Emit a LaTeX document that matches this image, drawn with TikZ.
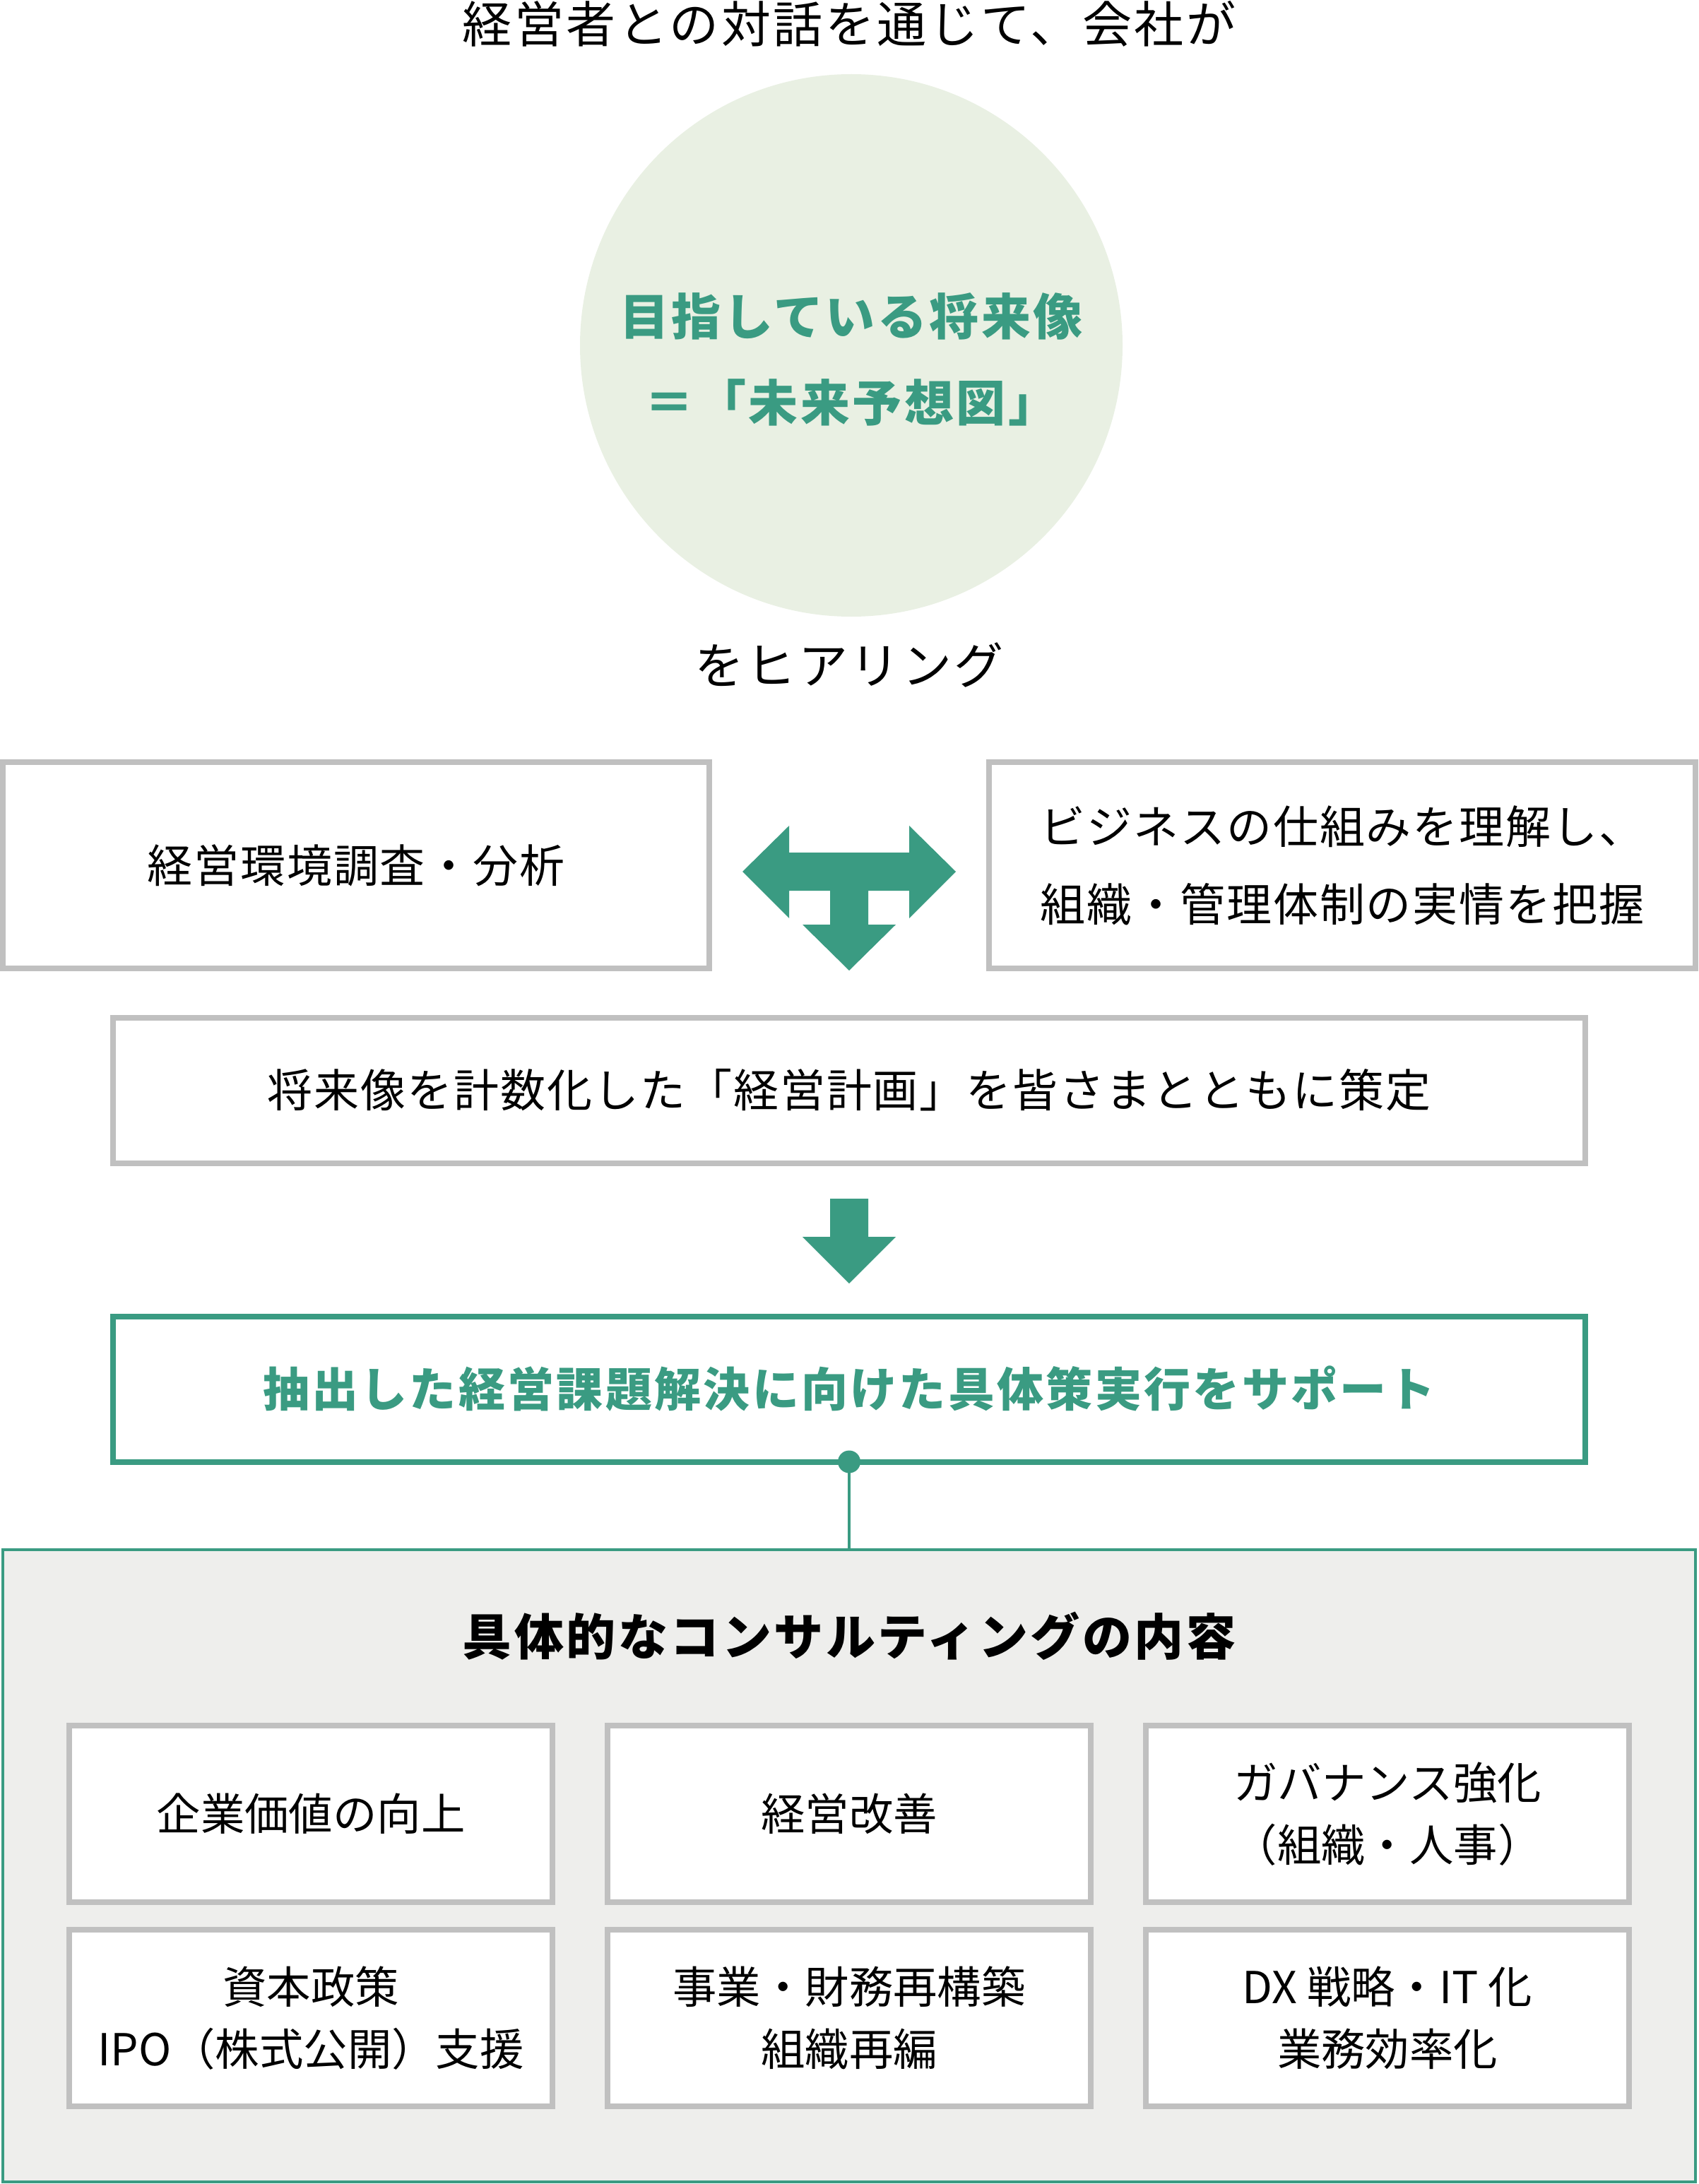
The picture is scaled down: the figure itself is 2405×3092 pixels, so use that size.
\documentclass[tikz,border=0pt]{standalone}
\usepackage{fontspec}
\setmainfont{Noto Sans CJK JP}
\newfontfamily\capfont[LetterSpace=5]{Noto Sans CJK JP}
\newfontfamily\boxfont[LetterSpace=3]{Noto Sans CJK JP}
\usetikzlibrary{positioning}

\definecolor{brandgreen}{HTML}{3A9B82}
\definecolor{paleleaf}{HTML}{E9F0E3}
\definecolor{framegray}{HTML}{C0C0C0}
\definecolor{panelgray}{HTML}{EEEEEC}

\begin{document}
\begin{tikzpicture}[x=0.25pt, y=-0.25pt,
        caption/.style={font=\capfont\fontsize{17.5pt}{30.5pt}\selectfont, inner sep=0pt},
        headline/.style={font=\capfont\bfseries\fontsize{17.5pt}{30.5pt}\selectfont, inner sep=0pt, align=center},
        frame/.style={draw=framegray, line width=2pt, fill=white, inner sep=0pt, outer sep=0pt, align=center,
            font=\boxfont\fontsize{16pt}{27.5pt}\selectfont},
        sidebox/.style={frame, minimum width=250pt, minimum height=73pt},
        widebox/.style={frame, minimum width=521pt, minimum height=51.5pt},
        itembox/.style={frame, minimum width=171pt, minimum height=62.5pt,
            font=\fontsize{15.6pt}{22pt}\selectfont},
        arrowfill/.style={fill=brandgreen}]
        \useasboundingbox (0,0) rectangle (2405,3092);

        \node (lead) [caption] at (1202,34) {経営者との対話を通じて、会社が};
        \node (vision) [circle, fill=paleleaf, minimum size=192pt, inner sep=0pt] at (1205,489) {};
        \node (goal) [headline, text=brandgreen] at (1205,509) {目指している将来像\\＝「未来予想図」};
        \node (hearing) [caption] at (1202,942) {をヒアリング};

        \node (survey) [sidebox] at (504,1225) {経営環境調査・分析};
        \node (grasp) [sidebox, right=99pt of survey] {ビジネスの仕組みを理解し、\\組織・管理体制の実情を把握};
        \coordinate (fork) at (1202,1234);
        \fill[arrowfill, shift={(fork)}] (-151,0) -- (-85,-65) -- (-85,-27) -- (85,-27) -- (85,-65) -- (151,0)
            -- (85,66) -- (85,27) -- (27,27) -- (27,75) -- (66,75) -- (0,140) -- (-66,75) -- (-27,75)
            -- (-27,27) -- (-85,27) -- (-85,66) -- cycle;

        \node (plan) [widebox] at (1202,1543.5) {将来像を計数化した「経営計画」を皆さまとともに策定};
        \coordinate (drop) at (1202,1697);
        \fill[arrowfill, shift={(drop)}] (-27,0) -- (27,0) -- (27,54) -- (66,54) -- (0,120) -- (-66,54)
            -- (-27,54) -- cycle;

        \node (support) [widebox, draw=brandgreen, text=brandgreen,
            font=\capfont\bfseries\fontsize{16.5pt}{27.5pt}\selectfont] at (1202,1966.5)
            {抽出した経営課題解決に向けた具体策実行をサポート};

        \node (panel) [draw=brandgreen, line width=1.125pt, fill=panelgray, outer sep=0pt,
            minimum width=599pt, minimum height=223.75pt] at (1202,2641.5) {};
        \draw[brandgreen, line width=1pt] (support.south) -- (panel.north);
        \fill[brandgreen] (support.south) circle[radius=4pt];

        \node (menu) [headline] at (1202,2316) {具体的なコンサルティングの内容};

        \node (value) [itembox] at (440,2568) {企業価値の向上};
        \node (improve) [itembox, right=19.5pt of value] {経営改善};
        \node (govern) [itembox, right=19.5pt of improve] {ガバナンス強化\\（組織・人事）};
        \node (capital) [itembox, below=9.75pt of value] {資本政策\\IPO（株式公開）支援};
        \node (rebuild) [itembox, right=19.5pt of capital] {事業・財務再構築\\組織再編};
        \node (digital) [itembox, right=19.5pt of rebuild] {DX 戦略・IT 化\\業務効率化};
    \end{tikzpicture}
\end{document}
